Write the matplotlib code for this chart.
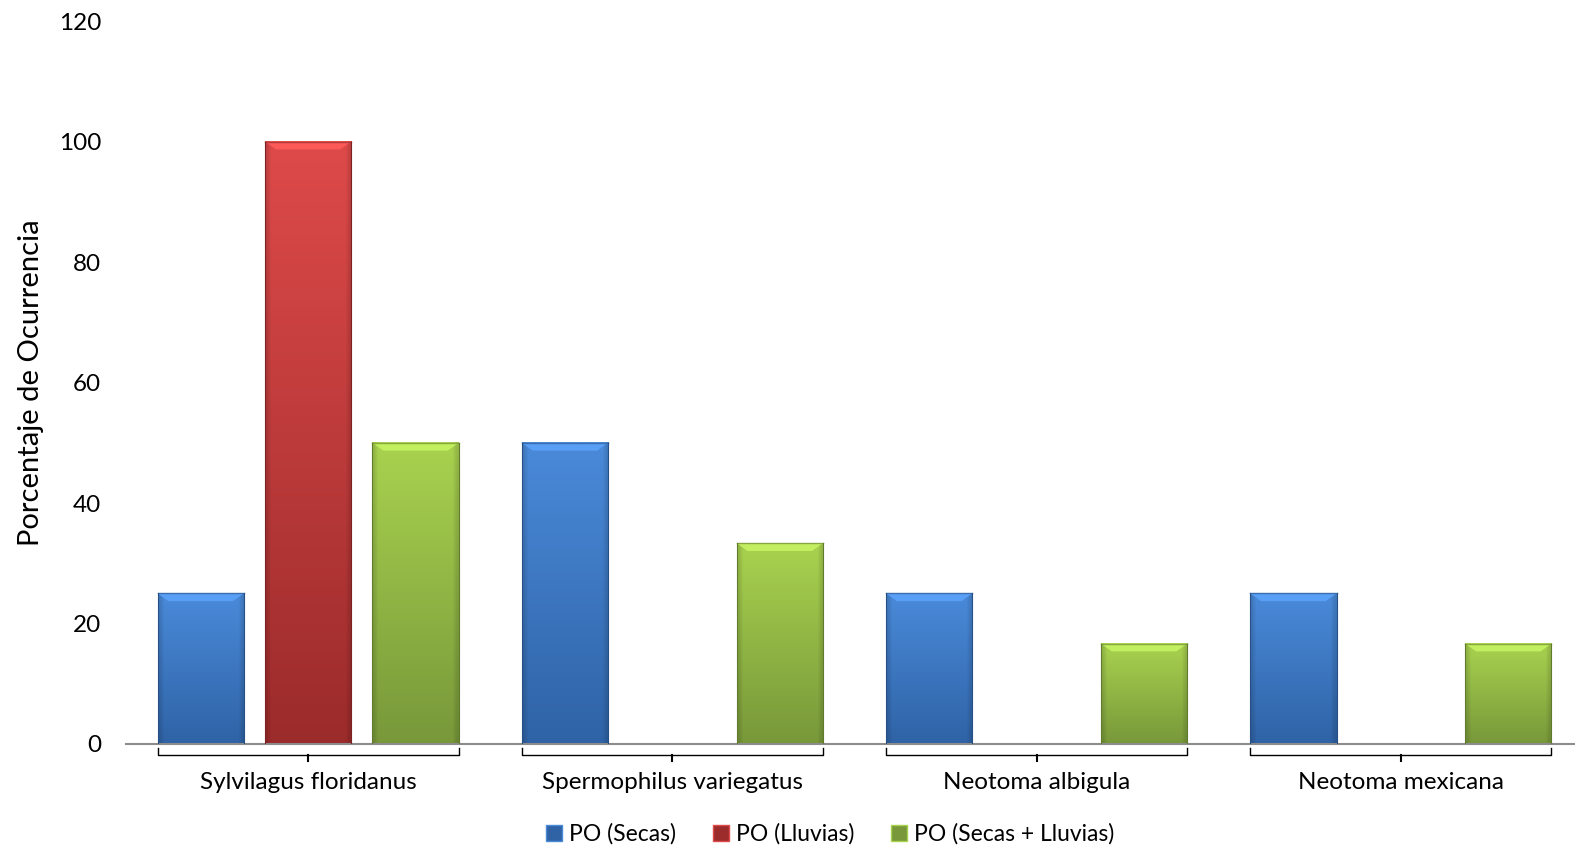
import numpy as np
import matplotlib.pyplot as plt
from matplotlib.patches import Patch
from matplotlib.colors import to_rgb

plt.rcParams['font.family'] = ['Lato', 'DejaVu Sans']

# datos del porcentaje de ocurrencia por especie
especies = ["Sylvilagus floridanus", "Spermophilus variegatus",
            "Neotoma albigula", "Neotoma mexicana"]
po_secas = [25, 50, 25, 25]
po_lluvias = [100, 0, 0, 0]
po_secas_lluvias = [50, 33.33, 16.67, 16.67]
series_nombres = ["PO (Secas)", "PO (Lluvias)", "PO (Secas + Lluvias)"]

# colores (claro arriba, oscuro abajo) de cada serie
colores = [("#4a8ad9", "#2f63a6"), ("#de4a4a", "#9c2b2b"), ("#a9d24f", "#78983a")]
y_ticks = [0, 20, 40, 60, 80, 100, 120]

fig = plt.figure(figsize=(15.75, 8.52), dpi=100)
ax = fig.add_axes([126 / 1575, 108 / 852, 1457 / 1575, 723 / 852])

x = np.arange(len(especies))
ancho = 0.237
paso = 0.295


def barra_degradada(ax, xc, h, c_top, c_bot):
    # barra con degradado vertical y biselado en el borde superior
    if h <= 0:
        return
    top = np.array(to_rgb(c_top))
    bot = np.array(to_rgb(c_bot))
    n = 100
    t = np.linspace(0, 1, n)[:, None]
    grad = top * (1 - t) + bot * t
    img = np.repeat(grad[:, None, :], 20, axis=1)
    # bordes laterales un poco más oscuros
    cols = np.linspace(0, 1, 20)
    side = 1 - 0.12 * (np.abs(cols - 0.5) > 0.45)
    img = img * side[None, :, None]
    x0, x1 = xc - ancho / 2, xc + ancho / 2
    ax.imshow(img, extent=[x0, x1, 0, h], aspect='auto', zorder=2,
              interpolation='bilinear')
    # bisel superior
    bisel = 1.3
    luz = np.clip(top * 1.1 + 0.03, 0, 1)
    ax.fill([x0, x1, x1 - 0.03, x0 + 0.03], [h, h, h - bisel, h - bisel],
            color=luz, zorder=3, lw=0)
    ax.plot([x0, x1], [h, h], color=np.clip(top * 0.8, 0, 1), lw=1, zorder=4)
    ax.plot([x0, x0], [0, h], color=bot * 0.8, lw=0.8, zorder=4)
    ax.plot([x1, x1], [0, h], color=bot * 0.8, lw=0.8, zorder=4)


for i, serie in enumerate([po_secas, po_lluvias, po_secas_lluvias]):
    for j, v in enumerate(serie):
        barra_degradada(ax, x[j] + (i - 1) * paso, v, *colores[i])

ax.set_xlim(-0.5, 3.5)
ax.set_ylim(0, 120)
ax.set_yticks(y_ticks)
ax.set_yticklabels([str(v) for v in y_ticks], fontsize=17.5)
ax.tick_params(axis='y', length=0, pad=18)
ax.set_xticks(x)
ax.set_xticklabels(especies, fontsize=17.5)
ax.tick_params(axis='x', length=0, pad=20)

for s in ['top', 'right', 'left']:
    ax.spines[s].set_visible(False)
ax.spines['bottom'].set_color('#8c8c8c')
ax.spines['bottom'].set_linewidth(1.5)

# corchetes bajo cada grupo
for j in x:
    x0 = j - paso - ancho / 2
    x1 = j + paso + ancho / 2
    ax.plot([x0, x0, x1, x1], [-0.6, -1.8, -1.8, -0.6], color='black',
            lw=1, clip_on=False)
    ax.plot([j, j], [-1.8, -2.8], color='black', lw=1.5, clip_on=False)

ax.set_ylabel("Porcentaje de Ocurrencia", fontsize=21)
ax.yaxis.set_label_coords(-0.056, 0.5)

handles = [Patch(facecolor=c[1], edgecolor=c[0]) for c in colores]
fig.legend(handles, series_nombres, loc='center', bbox_to_anchor=(830 / 1575, 1 - 834 / 852),
           ncol=3, frameon=False, fontsize=16.5, handlelength=0.7, handleheight=0.7,
           handletextpad=0.3, columnspacing=1.6)

fig.savefig("out.png", dpi=100)
